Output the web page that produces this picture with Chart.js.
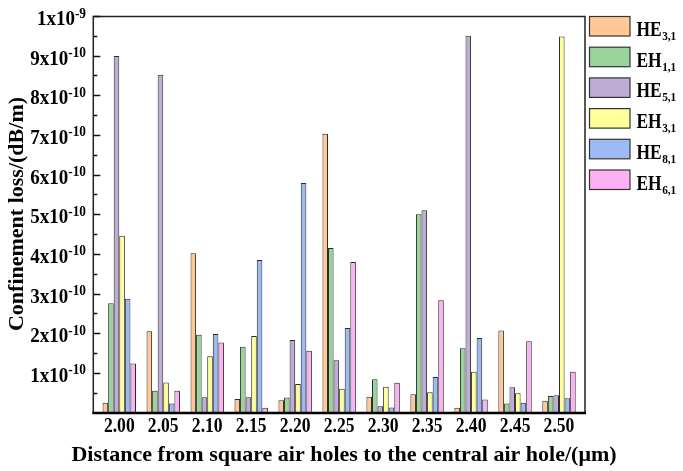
<!DOCTYPE html>
<html>
<head>
<meta charset="utf-8">
<script src="https://cdn.jsdelivr.net/npm/chart.js@4"></script>
<style>
  body { margin: 0; background: #fff; }
  #wrap { width: 683px; height: 471px; }
</style>
</head>
<body>
<div id="wrap"><canvas id="chart" width="683" height="471"></canvas></div>
<script>
// distance from square air holes to the central air hole (um)
var distances = ['2.00', '2.05', '2.10', '2.15', '2.20', '2.25', '2.30', '2.35', '2.40', '2.45', '2.50'];

// confinement loss, in units of 1e-10 dB/m
var he31 = [0.25, 2.05, 4.02, 0.34, 0.31, 7.03, 0.40, 0.46, 0.12, 2.07, 0.30];
var eh11 = [2.76, 0.55, 1.96, 1.66, 0.38, 4.15, 0.84, 5.00, 1.62, 0.23, 0.42];
var he51 = [8.99, 8.52, 0.39, 0.39, 1.83, 1.32, 0.16, 5.10, 9.50, 0.64, 0.44];
var eh31 = [4.46, 0.76, 1.42, 1.93, 0.72, 0.60, 0.65, 0.51, 1.03, 0.49, 9.48];
var he81 = [2.87, 0.23, 1.98, 3.85, 5.79, 2.13, 0.13, 0.90, 1.88, 0.25, 0.36];
var eh61 = [1.24, 0.55, 1.77, 0.12, 1.56, 3.80, 0.75, 2.83, 0.33, 1.80, 1.03];

var modeNames = ['HE', 'EH', 'HE', 'EH', 'HE', 'EH'];
var modeSubs = ['3,1', '1,1', '5,1', '3,1', '8,1', '6,1'];
var modeColors = ['rgb(255,200,150)', 'rgb(152,212,154)', 'rgb(190,174,214)',
                  'rgb(255,255,153)', 'rgb(155,187,242)', 'rgb(253,177,242)'];

var yTickValues = [1, 2, 3, 4, 5, 6, 7, 8, 9, 10];
var yTickBase = ['1x10', '2x10', '3x10', '4x10', '5x10', '6x10', '7x10', '8x10', '9x10', '1x10'];
var yTickExp = ['-10', '-10', '-10', '-10', '-10', '-10', '-10', '-10', '-10', '-9'];

var xTitle = 'Distance from square air holes to the central air hole/(\u03bcm)';
var yTitle = 'Confinement loss/(dB/m)';

var series = [he31, eh11, he51, eh31, he81, eh61];
var SERIF = "'Liberation Serif', 'Times New Roman', serif";

// text squeezed horizontally, like the narrow bold Times in the original
function squeeze(ctx, txt, x, y, sx, align) {
  ctx.save();
  ctx.translate(x, y);
  ctx.scale(sx, 1);
  ctx.textAlign = align || 'left';
  ctx.fillText(txt, 0, 0);
  ctx.restore();
  return ctx.measureText(txt).width * sx;
}

var decorPlugin = {
  id: 'decor',
  afterDatasetsDraw: function(chart) {
    var ctx = chart.ctx;
    var a = chart.chartArea;
    var xs = chart.scales.x, ys = chart.scales.y;
    var fl = a.left - 4, fr = a.right + 4;
    ctx.save();
    ctx.fillStyle = '#000';
    ctx.textBaseline = 'alphabetic';

    // frame
    ctx.strokeStyle = '#222';
    ctx.lineWidth = 1.5;
    ctx.beginPath();
    ctx.moveTo(fl, a.bottom); ctx.lineTo(fl, a.top + 0.5);
    ctx.lineTo(fr, a.top + 0.5); ctx.lineTo(fr, a.bottom);
    ctx.stroke();
    ctx.strokeStyle = '#000';
    ctx.lineWidth = 2.5;
    ctx.beginPath();
    ctx.moveTo(fl - 1, a.bottom + 0.5); ctx.lineTo(fr + 1, a.bottom + 0.5);
    ctx.stroke();

    // y tick marks (inward), major and minor
    ctx.lineWidth = 1.5;
    ctx.strokeStyle = '#111';
    for (var v = 0.5; v <= 10; v += 0.5) {
      var py = Math.round(ys.getPixelForValue(v)) + 0.5;
      var len = (v % 1 === 0) ? 7 : 4;
      ctx.beginPath();
      ctx.moveTo(fl, py); ctx.lineTo(fl + len, py);
      ctx.stroke();
    }

    // y tick labels with superscript exponent
    yTickValues.forEach(function(val, i) {
      var py = ys.getPixelForValue(val);
      ctx.font = 'bold 14px ' + SERIF;
      var we = ctx.measureText(yTickExp[i]).width * 0.95;
      ctx.font = 'bold 20px ' + SERIF;
      var wb = ctx.measureText(yTickBase[i]).width * 0.95;
      var x0 = 86 - we - wb;
      squeeze(ctx, yTickBase[i], x0, py + 9, 0.95);
      ctx.font = 'bold 14px ' + SERIF;
      squeeze(ctx, yTickExp[i], x0 + wb, py + 1.5, 0.95);
    });

    // x tick labels
    ctx.font = 'bold 20px ' + SERIF;
    distances.forEach(function(lbl, i) {
      squeeze(ctx, lbl, xs.getPixelForValue(i), a.bottom + 19.5, 0.88, 'center');
    });

    // axis titles
    ctx.font = 'bold 22px ' + SERIF;
    var tw = ctx.measureText(xTitle).width;
    squeeze(ctx, xTitle, 344, 461, Math.min(1, 563 / tw), 'center');
    var yw = ctx.measureText(yTitle).width;
    ctx.save();
    ctx.translate(23, 214);
    ctx.rotate(-Math.PI / 2);
    squeeze(ctx, yTitle, 0, 0, Math.min(1, 235 / yw), 'center');
    ctx.restore();

    // legend
    for (var k = 0; k < series.length; k++) {
      var top = 16.5 + k * 30.7;
      ctx.fillStyle = modeColors[k];
      ctx.fillRect(589.5, top, 40.5, 19.5);
      ctx.strokeStyle = '#333';
      ctx.lineWidth = 1.2;
      ctx.strokeRect(589.5, top, 40.5, 19.5);
      ctx.fillStyle = '#000';
      ctx.font = 'bold 20px ' + SERIF;
      var w = squeeze(ctx, modeNames[k], 636.5, top + 19.5, 0.87);
      ctx.font = 'bold 13px ' + SERIF;
      squeeze(ctx, modeSubs[k], 636.5 + w + 0.5, top + 23.5, 0.87);
    }
    ctx.restore();
  }
};

var datasets = series.map(function(vals, k) {
  return {
    label: modeNames[k] + modeSubs[k],
    data: vals,
    backgroundColor: modeColors[k],
    borderColor: 'rgba(20,20,20,0.9)',
    borderWidth: 1,
    borderSkipped: 'bottom',
    categoryPercentage: 0.76,
    barPercentage: 1.0
  };
});

new Chart(document.getElementById('chart'), {
  type: 'bar',
  data: { labels: distances, datasets: datasets },
  options: {
    responsive: false,
    animation: false,
    layout: { padding: { left: 0, right: 102, top: 16, bottom: 0 } },
    plugins: { legend: { display: false }, tooltip: { enabled: false } },
    scales: {
      x: {
        ticks: { display: false },
        grid: { display: false },
        border: { display: false },
        afterFit: function(s) { s.height = 58.4; }
      },
      y: {
        min: 0,
        max: 10,
        ticks: { display: false },
        grid: { display: false },
        border: { display: false },
        afterFit: function(s) { s.width = 97.3; }
      }
    }
  },
  plugins: [decorPlugin]
});
</script>
</body>
</html>
